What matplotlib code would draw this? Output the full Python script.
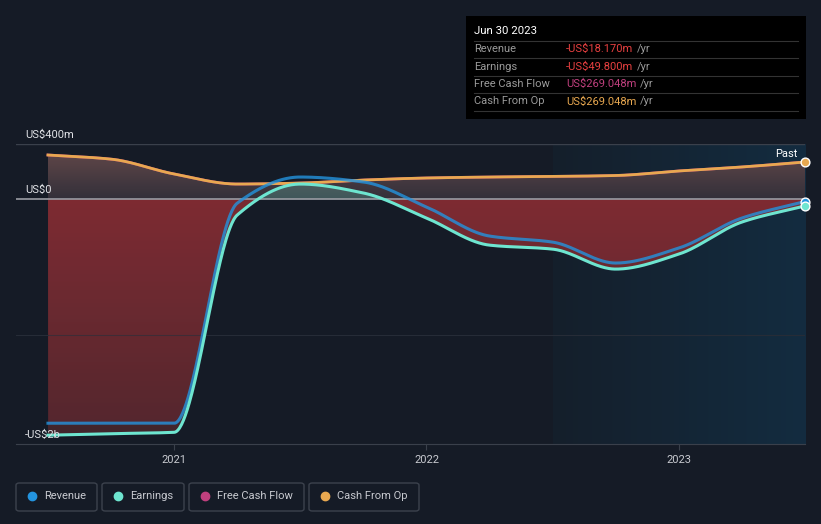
import numpy as np
import matplotlib
matplotlib.use("Agg")
import matplotlib.pyplot as plt
from matplotlib.patches import Polygon, FancyBboxPatch
from matplotlib.colors import LinearSegmentedColormap

plt.rcParams['font.family'] = ['Roboto', 'DejaVu Sans']

# 季度数据 (US$ m)
quarters = [2020.5, 2020.75, 2021.0, 2021.25, 2021.5, 2021.75, 2022.0,
            2022.25, 2022.5, 2022.75, 2023.0, 2023.25, 2023.5]
revenue = [-1629, -1629, -1629, -30, 160, 124, -58, -269, -313, -465, -356, -138, -18.17]
earnings = [-1716, -1705, -1695, -116, 109, 44, -138, -335, -364, -509, -400, -167, -49.8]
free_cash_flow = [320, 290, 182, 109, 116, 138, 153, 160, 164, 171, 204, 233, 269.048]
cash_from_op = [320, 290, 182, 109, 116, 138, 153, 160, 164, 171, 204, 233, 269.048]

year_ticks = [2021, 2022, 2023]
y_labels = [(400, "US$400m"), (0, "US$0"), (-1780, "-US$2b")]

BG = "#151b26"
C_REV = "#2394df"
C_EARN = "#6ee5d0"
C_FCF = "#c0407e"
C_CFO = "#e8a850"


# 单调三次插值，让曲线平滑
def pchip(x, y, xs):
    x = np.asarray(x, float)
    y = np.asarray(y, float)
    h = np.diff(x)
    d = np.diff(y) / h
    m = np.zeros_like(y)
    m[0] = d[0]
    m[-1] = d[-1]
    for k in range(1, len(x) - 1):
        if d[k - 1] * d[k] <= 0:
            m[k] = 0
        else:
            w1 = 2 * h[k] + h[k - 1]
            w2 = h[k] + 2 * h[k - 1]
            m[k] = (w1 + w2) / (w1 / d[k - 1] + w2 / d[k])
    idx = np.clip(np.searchsorted(x, xs) - 1, 0, len(x) - 2)
    t = (xs - x[idx]) / h[idx]
    h00 = 2 * t**3 - 3 * t**2 + 1
    h10 = t**3 - 2 * t**2 + t
    h01 = -2 * t**3 + 3 * t**2
    h11 = t**3 - t**2
    return h00 * y[idx] + h10 * h[idx] * m[idx] + h01 * y[idx + 1] + h11 * h[idx] * m[idx + 1]


def gradient_fill(ax, xs, top, bottom, c_top, c_bot, y0, y1, zorder):
    verts = np.vstack([np.column_stack([xs, top]), np.column_stack([xs[::-1], bottom[::-1]])])
    poly = Polygon(verts, closed=True, facecolor='none', edgecolor='none', transform=ax.transData)
    ax.add_patch(poly)
    cmap = LinearSegmentedColormap.from_list("g", [c_bot, c_top])
    grad = np.linspace(0, 1, 256).reshape(-1, 1)
    im = ax.imshow(grad, extent=[xs[0], xs[-1], y0, y1], origin='lower', aspect='auto',
                   cmap=cmap, zorder=zorder, interpolation='bilinear')
    im.set_clip_path(poly)


fig = plt.figure(figsize=(8.21, 5.24), dpi=100, facecolor=BG)
ax = fig.add_axes([16 / 821, 1 - 444 / 524, 789 / 821, 300 / 524])
ax.set_facecolor(BG)

xs = np.linspace(quarters[0], quarters[-1], 800)
rev_s = pchip(quarters, revenue, xs)
earn_s = pchip(quarters, earnings, xs)
fcf_s = pchip(quarters, free_cash_flow, xs)
cfo_s = pchip(quarters, cash_from_op, xs)

ymin, ymax = -1780, 400
xmin = quarters[0] - 32 / 252.5

# 最近一年的高亮背景
hl = LinearSegmentedColormap.from_list("hl", ["#151f2b", "#132c40"])
ax.imshow(np.linspace(0, 1, 256).reshape(1, -1), extent=[2022.5, quarters[-1], ymin, ymax],
          aspect='auto', cmap=hl, zorder=0)

# 填充
zero = np.zeros_like(xs)
gradient_fill(ax, xs, zero, np.minimum(earn_s, 0), "#7a2b32", "#3f252c", ymin, 0, 1)
gradient_fill(ax, xs, np.maximum(cfo_s, 0), zero, "#5f4648", "#33303a", 0, 330, 1)
ax.fill_between(xs, 0, np.maximum(earn_s, 0), color="#6ee5d0", alpha=0.22, lw=0, zorder=2)
ax.fill_between(xs, np.minimum(rev_s, 0), 0, color="#8a2c34", alpha=0.25, lw=0, zorder=2)

# 网格线
ax.axhline(400, color="#3a404b", lw=1, zorder=1)
ax.axhline(-990, color="#262c37", lw=0.8, zorder=1)
ax.axhline(0, color="#9a9ca3", lw=1.2, zorder=3)

# 曲线
ax.plot(xs, fcf_s, color=C_FCF, lw=2, zorder=4)
ax.plot(xs, cfo_s, color=C_CFO, lw=2, zorder=5)
ax.plot(xs, rev_s, color=C_REV, lw=2.2, alpha=0.8, zorder=5)
ax.plot(xs, earn_s, color=C_EARN, lw=2.2, zorder=6)

# 末端圆点
ax.scatter([quarters[-1]], [cash_from_op[-1]], s=40, color=C_CFO, edgecolor='white', lw=1, zorder=7, clip_on=False)
ax.scatter([quarters[-1]], [revenue[-1]], s=40, color=C_REV, edgecolor='white', lw=1, zorder=7, clip_on=False)
ax.scatter([quarters[-1]], [earnings[-1]], s=40, color=C_EARN, edgecolor='white', lw=1, zorder=7, clip_on=False)
ax.text(quarters[-1] - 8 / 252.5, cash_from_op[-1] + 25, "Past", color="white", fontsize=8,
        ha='right', va='bottom', zorder=8)

ax.set_xlim(xmin, quarters[-1])
ax.set_ylim(ymin, ymax)
for s in ['top', 'right', 'left']:
    ax.spines[s].set_visible(False)
ax.spines['bottom'].set_color("#3a404b")
ax.set_yticks([])
ax.set_xticks(year_ticks)
ax.set_xticklabels([str(y) for y in year_ticks])
ax.tick_params(axis='x', colors="#3a404b", labelcolor="#c8cad0", labelsize=8, length=4, pad=4)

for v, lab in y_labels:
    ax.text(xmin + 9 / 252.5, v + 30, lab, color="#e0e2e6", fontsize=8, ha='left', va='bottom', zorder=8)

# 提示框
fig.patches.append(FancyBboxPatch((466 / 821, 1 - 119 / 524), 340 / 821, 103 / 524,
                                  boxstyle="square,pad=0", transform=fig.transFigure,
                                  facecolor="black", edgecolor="none"))
fig.text(474 / 821, 1 - 31 / 524, "Jun 30 2023", color="white", fontsize=8.2, va='center')
rows = [("Revenue", "-US$18.170m", "#e84040"),
        ("Earnings", "-US$49.800m", "#e84040"),
        ("Free Cash Flow", "US$269.048m", C_FCF),
        ("Cash From Op", "US$269.048m", C_CFO)]
for i, (name, val, col) in enumerate(rows):
    yc = 49 + i * 17.5
    fig.add_artist(plt.Line2D([474 / 821, 798 / 821], [1 - (yc - 8.5) / 524] * 2, color="#333333", lw=0.8))
    fig.text(474 / 821, 1 - yc / 524, name, color="#9a9a9a", fontsize=8, va='center')
    t = fig.text(566 / 821, 1 - yc / 524, val, color=col, fontsize=8, va='center')
    fig.canvas.draw()
    bb = t.get_window_extent()
    fig.text((bb.x1 + 4) / 821, 1 - yc / 524, "/yr", color="#9a9a9a", fontsize=8, va='center')
fig.add_artist(plt.Line2D([474 / 821, 798 / 821], [1 - 111 / 524] * 2, color="#333333", lw=0.8))

# 图例
legend = [("Revenue", C_REV, 16, 97), ("Earnings", C_EARN, 102, 184),
          ("Free Cash Flow", C_FCF, 189, 304), ("Cash From Op", C_CFO, 309, 419)]
for name, col, x0, x1 in legend:
    fig.patches.append(FancyBboxPatch((x0 / 821, 1 - 511 / 524), (x1 - x0) / 821, 28 / 524,
                                      boxstyle="round,pad=0,rounding_size=0.004", transform=fig.transFigure,
                                      facecolor=BG, edgecolor="#3c424d", lw=1))
    fig.add_artist(plt.Line2D([(x0 + 16) / 821], [1 - 496 / 524], marker='o', markersize=6,
                              color=col, linestyle='none'))
    fig.text((x0 + 28) / 821, 1 - 496 / 524, name, color="#c8cad0", fontsize=8, va='center')

fig.savefig("out.png", dpi=100, facecolor=BG)
